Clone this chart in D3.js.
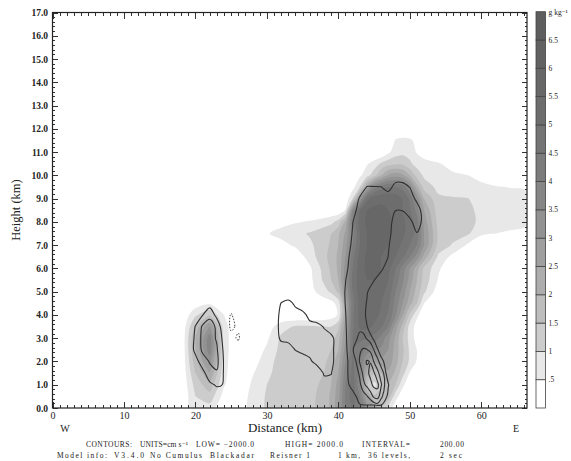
<!DOCTYPE html>
<html>
<head>
<meta charset="utf-8">
<script src="https://cdnjs.cloudflare.com/ajax/libs/d3/7.8.5/d3.min.js"></script>
<style>
  body { margin: 0; background: #fff; }
  text { font-family: "Liberation Serif", "DejaVu Serif", serif; fill: #222; }
</style>
</head>
<body>
<svg id="chart" width="571" height="461"></svg>
<script>
// ---- shaded field (g/kg) on a grid, rows from the ground up ----
const shadeX = [16,18,20,22,24,26,28,30,32,34,36,38,39,40,41,42,43,44,45,46,47,48,49,50,51,52,54,56,58,60,62,64,66];
const shadeY = [0,0.5,1,1.5,2,2.5,3,3.5,4,4.5,5,5.5,6,6.5,7,7.5,8,8.5,9,9.5,10,10.5,11,11.5,12];
const mixingRatio = [
  [0,0,0.9,0.8,0,0.1,0.75,1.05,1.2,1.3,1.35,1.7,2.1,2.8,4.0,4.6,4.2,3.2,2.4,1.6,0.8,0.2,0,0,0,0,0,0,0,0,0,0,0],
  [0,0,1.0,1.3,0.3,0.1,0.7,1.05,1.2,1.3,1.35,1.7,2.1,2.8,4.1,4.8,4.0,2.5,1.6,1.8,1.8,0.7,0.2,0,0,0,0,0,0,0,0,0,0],
  [0,0,1.2,1.8,0.55,0,0.6,1.0,1.2,1.3,1.35,1.6,2.0,2.7,4.0,4.8,3.6,1.6,0.8,1.4,2.0,1.5,0.6,0.2,0,0,0,0,0,0,0,0,0],
  [0,0,1.5,2.5,0.65,0,0.45,0.9,1.2,1.3,1.3,1.5,1.9,2.5,3.8,4.7,3.8,2.2,1.6,2.0,2.4,1.9,1.2,0.45,0,0,0,0,0,0,0,0,0],
  [0,0,1.8,3.2,0.7,0,0.25,0.8,1.2,1.3,1.25,1.4,1.7,2.3,3.5,4.6,4.0,3.0,2.6,2.8,2.8,2.2,1.5,0.9,0.45,0,0,0,0,0,0,0,0],
  [0,0,2.0,3.8,0.75,0,0.1,0.6,1.15,1.25,1.2,1.3,1.5,2.0,3.2,4.5,4.3,3.8,3.5,3.4,3.0,2.3,1.6,0.9,0.5,0,0,0,0,0,0,0,0],
  [0,0,2.0,3.8,0.75,0,0,0.4,1.1,1.2,1.15,1.1,1.2,1.8,3.0,4.5,4.6,4.5,4.3,3.8,3.2,2.4,1.5,0.8,0.3,0,0,0,0,0,0,0,0],
  [0,0,1.6,3.0,0.7,0,0,0.2,0.8,1.05,1.05,1.0,1.0,1.4,2.8,4.4,5.1,5.2,4.9,4.6,4.0,2.8,1.8,0.8,0.3,0,0,0,0,0,0,0,0],
  [0,0,0.9,1.5,0.5,0,0,0,0,0,0,0.1,0.25,0.55,2.5,4.4,5.2,5.4,5.2,4.9,4.4,3.6,2.5,1.4,0.6,0.2,0,0,0,0,0,0,0],
  [0,0,0.2,0.4,0.1,0,0,0,0,0,0,0.2,0.3,0.7,2.5,4.3,5.2,5.4,5.2,5.0,4.6,3.8,3.0,2.2,1.5,0.5,0,0,0,0,0,0,0],
  [0,0,0,0,0,0,0,0,0,0,0.3,0.8,1.1,1.6,3.0,4.5,5.3,5.4,5.3,5.2,4.8,4.0,3.3,2.5,1.8,1.1,0.2,0,0,0,0,0,0],
  [0,0,0,0,0,0,0,0,0,0,0.35,1.1,1.5,2.0,3.3,4.6,5.3,5.5,5.5,5.3,5.0,4.3,3.6,2.8,2.0,1.3,0.45,0,0,0,0,0,0],
  [0,0,0,0,0,0,0,0,0,0,0.4,1.2,1.6,2.1,3.2,4.5,5.3,5.6,5.6,5.5,5.2,4.5,3.8,3.0,2.2,1.4,0.6,0,0,0,0,0,0],
  [0,0,0,0,0,0,0,0,0,0.1,0.75,1.35,1.7,2.1,3.0,4.3,5.2,5.6,5.6,5.5,5.3,5.0,4.6,4.0,3.3,2.3,0.9,0.35,0,0,0,0,0],
  [0,0,0,0,0,0,0,0,0.3,0.6,0.9,1.3,1.6,2.0,2.8,4.0,5.0,5.5,5.6,5.6,5.5,5.2,4.9,4.5,4.0,3.0,1.3,0.95,0.45,0,0,0,0],
  [0,0,0,0,0,0,0,0.45,0.7,0.85,1.05,1.35,1.5,1.9,2.6,3.8,5.0,5.5,5.7,5.7,5.6,5.4,5.1,4.8,4.3,3.0,1.4,1.2,1.1,0.6,0.5,0.4,0.3],
  [0,0,0,0,0,0,0,0,0.3,0.45,0.55,0.7,0.85,1.2,2.2,4.0,5.2,5.6,5.7,5.7,5.6,5.4,5.1,4.8,4.2,2.8,1.3,1.2,1.15,0.9,0.8,0.75,0.7],
  [0,0,0,0,0,0,0,0,0,0,0,0.1,0.1,0.1,0.52,3.5,5.0,5.5,5.6,5.6,5.5,5.3,5.0,4.6,3.8,2.5,1.2,1.15,1.1,0.9,0.8,0.75,0.75],
  [0,0,0,0,0,0,0,0,0,0,0,0,0,0,0.1,1.0,3.0,4.8,5.3,5.4,5.4,5.3,5.0,4.4,3.3,2.0,1.1,1.05,1.02,0.85,0.75,0.7,0.7],
  [0,0,0,0,0,0,0,0,0,0,0,0,0,0,0,0.3,1.0,2.5,3.8,4.3,4.5,4.5,4.3,3.5,2.2,1.3,0.85,0.75,0.7,0.65,0.55,0.48,0.45],
  [0,0,0,0,0,0,0,0,0,0,0,0,0,0,0,0.1,0.4,0.8,1.3,2.0,2.6,2.8,2.6,2.0,1.3,0.9,0.7,0.6,0.52,0.3,0,0,0],
  [0,0,0,0,0,0,0,0,0,0,0,0,0,0,0,0,0.2,0.45,0.7,1.1,1.3,1.4,1.4,1.1,0.8,0.65,0.55,0.3,0,0,0,0,0],
  [0,0,0,0,0,0,0,0,0,0,0,0,0,0,0,0,0,0,0,0,0.4,0.75,0.85,0.8,0.45,0.3,0,0,0,0,0,0,0],
  [0,0,0,0,0,0,0,0,0,0,0,0,0,0,0,0,0,0,0,0,0,0.55,0.65,0.6,0.35,0,0,0,0,0,0,0,0],
  [0,0,0,0,0,0,0,0,0,0,0,0,0,0,0,0,0,0,0,0,0,0,0,0,0,0,0,0,0,0,0,0,0]
];

// ---- vertical velocity (cm/s) on small grids round each cell ----
const wColumnX = [40,41,42,43,44,45,46,47,48,49,50,51,52,53];
const wColumnY = [0,0.5,1,1.5,2,2.5,3,3.5,4,4.5,5,5.5,6,6.5,7,7.5,8,8.5,9,9.5,10];
const wColumn = [
  [0,0,50,100,130,130,130,60,0,0,0,0,0,0],
  [0,0,0,400,400,400,400,150,0,0,0,0,0,0],
  [0,0,400,400,400,400,400,210,0,0,0,0,0,0],
  [0,100,400,400,400,400,400,100,0,0,0,0,0,0],
  [0,100,400,400,400,400,300,0,0,0,0,0,0,0],
  [0,150,400,400,400,400,40,0,0,0,0,0,0,0],
  [0,165,400,400,400,150,0,0,0,0,0,0,0,0],
  [0,178,400,400,210,0,0,0,0,0,0,0,0,0],
  [0,190,400,400,150,0,0,0,0,0,0,0,0,0],
  [0,210,400,400,180,0,0,0,0,0,0,0,0,0],
  [0,220,400,400,230,0,0,0,0,0,0,0,0,0],
  [0,190,400,400,400,210,0,0,0,0,0,0,0,0],
  [0,100,400,400,400,400,270,0,0,0,0,0,0,0],
  [0,0,400,400,400,400,400,190,0,0,0,0,0,0],
  [0,0,270,400,400,400,400,230,0,0,0,0,0,0],
  [0,0,220,400,400,400,400,310,0,0,0,180,100,0],
  [0,0,190,400,400,400,400,400,0,50,100,400,60,0],
  [0,0,0,400,400,400,400,400,210,210,400,400,0,0],
  [0,0,0,230,400,400,400,400,400,400,400,100,0,0],
  [0,0,0,50,210,210,205,70,320,320,190,0,0,0],
  [0,0,0,0,0,0,0,0,0,0,0,0,0,0]
];
const wCoreX = [41.5,42,42.5,43,43.5,44,44.5,45,45.5,46,46.5,47,47.5];
const wCoreY = [0,0.5,1,1.5,2,2.5,3,3.5,4];
const wCore = [
  [0,0,30,60,90,120,150,180,200,180,120,60,0],
  [0,50,150,200,300,380,500,650,700,450,300,150,50],
  [0,100,200,350,550,650,750,850,850,620,390,150,50],
  [0,100,300,450,650,750,850,820,650,500,350,100,0],
  [0,200,410,620,720,820,790,580,450,300,150,50,0],
  [100,380,500,580,620,610,550,390,250,150,50,0,0],
  [50,200,370,470,460,380,300,200,100,50,0,0,0],
  [0,150,280,340,320,250,150,100,50,0,0,0,0],
  [0,50,100,150,150,100,50,0,0,0,0,0,0]
];
const wWestX = [18,19,20,21,22,23,24,25,26,27];
const wWestY = [0,0.5,1,1.5,2,2.5,3,3.5,4,4.5,5];
const wWest = [
  [0,0,0,0,0,0,0,0,0,0],
  [0,0,0,0,0,50,50,0,0,0],
  [0,0,0,50,150,230,190,0,0,0],
  [0,0,50,120,350,380,180,0,0,0],
  [0,0,100,330,410,450,180,0,0,0],
  [0,0,270,430,480,420,160,0,0,0],
  [0,0,250,450,480,380,120,-120,-240,0],
  [0,0,210,430,450,380,0,-250,-150,0],
  [0,0,50,190,370,120,0,-230,0,0],
  [0,0,0,50,90,30,0,0,0,0],
  [0,0,0,0,0,0,0,0,0,0]
];
const wMidX = [30,31,32,33,34,35,36,37,38,39,40,41];
const wMidY = [1,1.5,2,2.5,3,3.5,4,4.5,5];
const wMid = [
  [0,0,0,0,0,0,0,0,100,120,0,0],
  [0,0,0,0,0,0,0,0,230,210,0,0],
  [0,0,0,0,0,0,150,300,300,300,0,0],
  [0,0,0,50,210,300,300,300,300,300,0,0],
  [0,0,270,300,300,300,300,300,300,300,0,0],
  [0,0,330,300,300,300,300,300,180,0,0,0],
  [0,0,300,300,300,300,100,0,0,0,0,0],
  [0,0,210,280,150,0,0,0,0,0,0,0],
  [0,0,0,0,0,0,0,0,0,0,0,0]
];

// ---- legend and ticks ----
const shadeLevels = [0.5,1,1.5,2,2.5,3,3.5,4,4.5,5,5.5,6,6.5];
const levelColors = ["#ffffff","#e8e8e8","#cccccc","#bdbdbd","#adadad","#9f9f9f","#929292",
                     "#868686","#7c7c7c","#747474","#6d6d6d","#676767","#626262","#5e5e5e"];
const levelLabels = [".5","1","1.5","2","2.5","3","3.5","4","4.5","5","5.5","6","6.5"];
const heightTicks = [0,1,2,3,4,5,6,7,8,9,10,11,12,13,14,15,16,17];
const distanceTicks = [0,10,20,30,40,50,60];

const svg = d3.select("#chart");
const X0 = 52.5, X1 = 527, Y0 = 408, Y1 = 12.5;
const x = d3.scaleLinear().domain([0, 66.4]).range([X0, X1]);
const y = d3.scaleLinear().domain([0, 17]).range([Y0, Y1]);

svg.append("clipPath").attr("id", "plotClip")
  .append("rect").attr("x", X0).attr("y", Y1).attr("width", X1 - X0).attr("height", Y0 - Y1);

// contour a grid; grid sample i sits at d3.contours coordinate i + 0.5
function contourPaths(colKm, rowKm, rows, thresholds) {
  const nx = colKm.length, ny = rowKm.length;
  const ci = d3.scaleLinear().domain(d3.range(nx)).range(colKm);
  const ri = d3.scaleLinear().domain(d3.range(ny)).range(rowKm);
  const smooth = d3.line().curve(d3.curveCatmullRomClosed.alpha(0.5));
  return d3.contours().size([nx, ny]).thresholds(thresholds)(rows.flat()).map(c => ({
    value: c.value,
    d: c.coordinates.map(poly => poly.map(ring =>
      smooth(ring.slice(0, -1).map(([a, b]) => [x(ci(a - 0.5)), y(ri(b - 0.5))]))
    ).join("")).join("")
  }));
}

const plot = svg.append("g").attr("clip-path", "url(#plotClip)");

// filled levels, stacked from light to dark
plot.selectAll("path.shade")
  .data(contourPaths(shadeX, shadeY, mixingRatio, shadeLevels))
  .join("path")
  .attr("class", "shade")
  .attr("d", d => d.d)
  .attr("fill", d => levelColors[Math.round(d.value / 0.5)])
  .attr("fill-rule", "evenodd");

// line contours
const lineSets = [
  contourPaths(wColumnX, wColumnY, wColumn, [200]),
  contourPaths(wCoreX, wCoreY, wCore, [400, 600, 800]),
  contourPaths(wWestX, wWestY, wWest, [200, 400]),
  contourPaths(wMidX, wMidY, wMid, [200])
];
lineSets.forEach(set => {
  plot.append("g").selectAll("path").data(set).join("path")
    .attr("d", d => d.d)
    .attr("fill", "none")
    .attr("stroke", "#303030")
    .attr("stroke-width", 1.1);
});
// negative (downdraft) contour, dashed
plot.append("g").selectAll("path")
  .data(contourPaths(wWestX, wWestY, wWest.map(r => r.map(v => -v)), [200]))
  .join("path")
  .attr("d", d => d.d)
  .attr("fill", "none")
  .attr("stroke", "#303030")
  .attr("stroke-width", 0.9)
  .attr("stroke-dasharray", "1.5,1.5");

// axes, ticks pointing inward
function styleAxis(g) {
  g.select(".domain").remove();
  g.selectAll("line").attr("stroke", "#333").attr("shape-rendering", "crispEdges");
  g.selectAll("text").attr("font-family", "Liberation Serif, DejaVu Serif, serif")
    .attr("font-size", 9.5).attr("font-weight", "bold").attr("fill", "#333");
}
const minorY = d3.range(0, 17.001, 0.2);
const minorX = d3.range(0, 66.4, 1);

svg.append("g").attr("transform", `translate(${X0},0)`)
  .call(d3.axisLeft(y).tickValues(minorY).tickSizeInner(-2.5).tickSizeOuter(0).tickFormat(""))
  .call(styleAxis);
svg.append("g").attr("transform", `translate(${X0},0)`)
  .call(d3.axisLeft(y).tickValues(heightTicks).tickSizeInner(-5).tickSizeOuter(0)
    .tickPadding(4.5).tickFormat(d3.format(".1f")))
  .call(styleAxis);
svg.append("g").attr("transform", `translate(${X1},0)`)
  .call(d3.axisRight(y).tickValues(minorY).tickSizeInner(-2.5).tickSizeOuter(0).tickFormat(""))
  .call(styleAxis);
svg.append("g").attr("transform", `translate(${X1},0)`)
  .call(d3.axisRight(y).tickValues(heightTicks).tickSizeInner(-5).tickSizeOuter(0).tickFormat(""))
  .call(styleAxis);

svg.append("g").attr("transform", `translate(0,${Y0})`)
  .call(d3.axisBottom(x).tickValues(minorX).tickSizeInner(-3).tickSizeOuter(0).tickFormat(""))
  .call(styleAxis);
svg.append("g").attr("transform", `translate(0,${Y0})`)
  .call(d3.axisBottom(x).tickValues(distanceTicks).tickSizeInner(-6).tickSizeOuter(0)
    .tickPadding(4).tickFormat(d3.format("d")))
  .call(styleAxis)
  .call(g => g.selectAll("text").attr("font-weight", "normal").attr("font-size", 10));
svg.append("g").attr("transform", `translate(0,${Y1})`)
  .call(d3.axisTop(x).tickValues(minorX).tickSizeInner(-3).tickSizeOuter(0).tickFormat(""))
  .call(styleAxis);
svg.append("g").attr("transform", `translate(0,${Y1})`)
  .call(d3.axisTop(x).tickValues(distanceTicks).tickSizeInner(-6).tickSizeOuter(0).tickFormat(""))
  .call(styleAxis);

svg.append("rect")
  .attr("x", X0).attr("y", Y1).attr("width", X1 - X0).attr("height", Y0 - Y1)
  .attr("fill", "none").attr("stroke", "#222").attr("stroke-width", 1.2);

// colour bar
const cb = d3.scaleLinear().domain([0, 7]).range([Y0, 11.7]);
const cbX = 536, cbW = 9.5;
svg.append("g").selectAll("rect").data(levelColors).join("rect")
  .attr("x", cbX)
  .attr("y", (c, k) => cb((k + 1) * 0.5))
  .attr("width", cbW)
  .attr("height", (c, k) => cb(k * 0.5) - cb((k + 1) * 0.5))
  .attr("fill", c => c)
  .attr("stroke", "#444")
  .attr("stroke-width", 0.8);
svg.append("g").selectAll("text").data(shadeLevels).join("text")
  .attr("x", 548.5)
  .attr("y", d => cb(d) + 2.5)
  .attr("font-size", 7.5)
  .text((d, i) => levelLabels[i]);
svg.append("text").attr("x", 548.5).attr("y", cb(7) + 3).attr("font-size", 7.5)
  .text("g kg⁻¹");

// titles
svg.append("text")
  .attr("transform", "translate(20,210) rotate(-90)")
  .attr("text-anchor", "middle")
  .attr("font-size", 12.5)
  .text("Height (km)");
svg.append("text").attr("x", 285).attr("y", 432).attr("text-anchor", "middle")
  .attr("font-size", 13).text("Distance (km)");
svg.append("text").attr("x", 65).attr("y", 432).attr("text-anchor", "middle")
  .attr("font-size", 10).text("W");
svg.append("text").attr("x", 516).attr("y", 432).attr("text-anchor", "middle")
  .attr("font-size", 10).text("E");

// footer lines: [x, text, width]
const footer1 = [
  [86, "CONTOURS:", 46], [140, "UNITS=cm s⁻¹", 48], [196, "LOW= −2000.0", 58],
  [285, "HIGH=  2000.0", 58], [362, "INTERVAL=", 48], [440, "200.00", 24]
];
const footer2 = [
  [57, "Model info:", 50], [114, "V3.4.0", 30], [150, "No Cumulus", 52], [210, "Blackadar", 44],
  [270, "Reisner 1", 40], [338, "1 km,", 22], [368, "36 levels,", 42], [440, "2 sec", 22]
];
svg.append("g")
  .selectAll("text").data(footer1).join("text")
  .attr("x", d => d[0]).attr("y", 447).attr("font-size", 7.5)
  .attr("font-family", "DejaVu Serif, serif")
  .attr("textLength", d => d[2]).attr("lengthAdjust", "spacing")
  .text(d => d[1]);
svg.append("g")
  .selectAll("text").data(footer2).join("text")
  .attr("x", d => d[0]).attr("y", 458).attr("font-size", 7.5)
  .attr("font-family", "DejaVu Serif, serif")
  .attr("textLength", d => d[2]).attr("lengthAdjust", "spacing")
  .text(d => d[1]);
</script>
</body>
</html>
